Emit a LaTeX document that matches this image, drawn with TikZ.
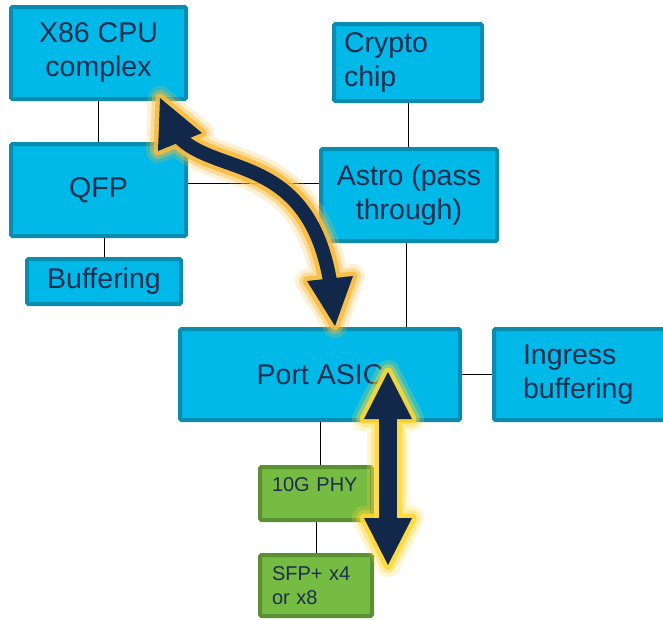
\documentclass[tikz,border=0pt]{standalone}
\usepackage{fontspec}
\setmainfont{Liberation Sans}
\usetikzlibrary{positioning}
\definecolor{skyfill}{HTML}{00B9E8}
\definecolor{skyline}{HTML}{0A8CAE}
\definecolor{navy}{HTML}{12284B}
\definecolor{ink}{HTML}{1B2E50}
\definecolor{leaf}{HTML}{76BC43}
\definecolor{leafline}{HTML}{5A8F33}
\definecolor{amber}{HTML}{F8BC3C}
\definecolor{lemon}{HTML}{FFD834}

\begin{document}
\begin{tikzpicture}[x=1pt,y=-1pt,
  blk/.style={draw=skyline,fill=skyfill,line width=4pt,rounded corners=1.5pt,text=ink,font=\fontsize{28.5}{34}\selectfont,align=center,inner sep=0pt},
  chip/.style={draw=leafline,fill=leaf,line width=4pt,rounded corners=1.5pt,text=ink,font=\fontsize{20}{24}\selectfont,align=left,text width=88pt,inner xsep=12pt,inner ysep=0pt,minimum width=112pt},
  wire/.style={black,line width=0.8pt}]
\clip (0,0) rectangle (663,619);
\fill[white] (0,0) rectangle (663,619);
% blocks
\node[blk,minimum width=175pt,minimum height=92pt] (cpu) at (98.5,53) {X86 CPU\\complex};
\node[blk,minimum width=175pt,minimum height=92pt] (qfp) at (98.5,190) {QFP};
\node[blk,minimum width=154pt,minimum height=45pt] (buf) at (104,281.5) {Buffering};
\node[blk,minimum width=148pt,minimum height=77pt,text width=128pt,inner xsep=10pt,align=left] (crypto) at (408,62.5) {Crypto\\chip};
\node[blk,minimum width=176pt,minimum height=92pt] (astro) at (409,195) {Astro (pass\\through)};
\node[blk,minimum width=280pt,minimum height=91pt] (asic) at (320,374.5) {Port ASIC};
\node[blk,minimum width=198pt,minimum height=91pt,text width=140pt,inner xsep=29pt,align=left] (ingress) at (593,374.5) {Ingress\\buffering};
\node[chip,minimum height=53pt,text depth=17pt] (phy) at (316,493.5) {10G PHY};
\node[chip,minimum height=61pt] (sfp) at (316,585.5) {SFP+ x4\\or x8};
% links
\draw[wire] (cpu.south) -- (qfp.north);
\draw[wire] (qfp.south -| buf.north) -- (buf.north);
\draw[wire] ([yshift=7pt]qfp.east) -- ([yshift=7pt]qfp.east -| astro.west);
\draw[wire] (crypto.south) -- (crypto.south |- astro.north);
\draw[wire] ([xshift=-3pt]astro.south) -- ([xshift=-3pt]astro.south |- asic.north);
\draw[wire] (asic.east) -- (ingress.west);
\draw[wire] (asic.south) -- (asic.south |- phy.north);
\draw[wire] (phy.south) -- (sfp.north);
% arrow ends
\coordinate (up1) at (160,98);  \coordinate (up1l) at (158,151); \coordinate (up1r) at (202,133);
\coordinate (dn1) at (335,326); \coordinate (dn1l) at (307,281); \coordinate (dn1r) at (353,276);
\coordinate (s1a) at (177,135); \coordinate (s1b) at (331,287);
\coordinate (up2) at (388,372); \coordinate (up2l) at (364,419); \coordinate (up2r) at (412,419);
\coordinate (dn2) at (388,565); \coordinate (dn2l) at (364,518); \coordinate (dn2r) at (412,518);
\coordinate (s2a) at (388,410); \coordinate (s2b) at (388,527);
% glow
\foreach \g/\w/\o in {24/38/.22,16/30/.4,9/23/.85}{
  \begin{scope}[transparency group,opacity=\o]
    \draw[amber,line width=\w pt] (s1a) .. controls (215,178) and (310,150) .. (s1b);
    \filldraw[amber,line width=\g pt,line join=round] (up1) -- (up1l) -- (up1r) -- cycle (dn1) -- (dn1l) -- (dn1r) -- cycle;
  \end{scope}
  \begin{scope}[transparency group,opacity=\o]
    \draw[lemon,line width=\w pt+4pt] (s2a) -- (s2b);
    \filldraw[lemon,line width=\g pt,line join=round] (up2) -- (up2l) -- (up2r) -- cycle (dn2) -- (dn2l) -- (dn2r) -- cycle;
  \end{scope}
}
% arrows
\draw[navy,line width=14pt] (s1a) .. controls (215,178) and (310,150) .. (s1b);
\fill[navy] (up1) -- (up1l) -- (up1r) -- cycle (dn1) -- (dn1l) -- (dn1r) -- cycle;
\draw[navy,line width=18pt] (s2a) -- (s2b);
\fill[navy] (up2) -- (up2l) -- (up2r) -- cycle (dn2) -- (dn2l) -- (dn2r) -- cycle;
\end{tikzpicture}
\end{document}
